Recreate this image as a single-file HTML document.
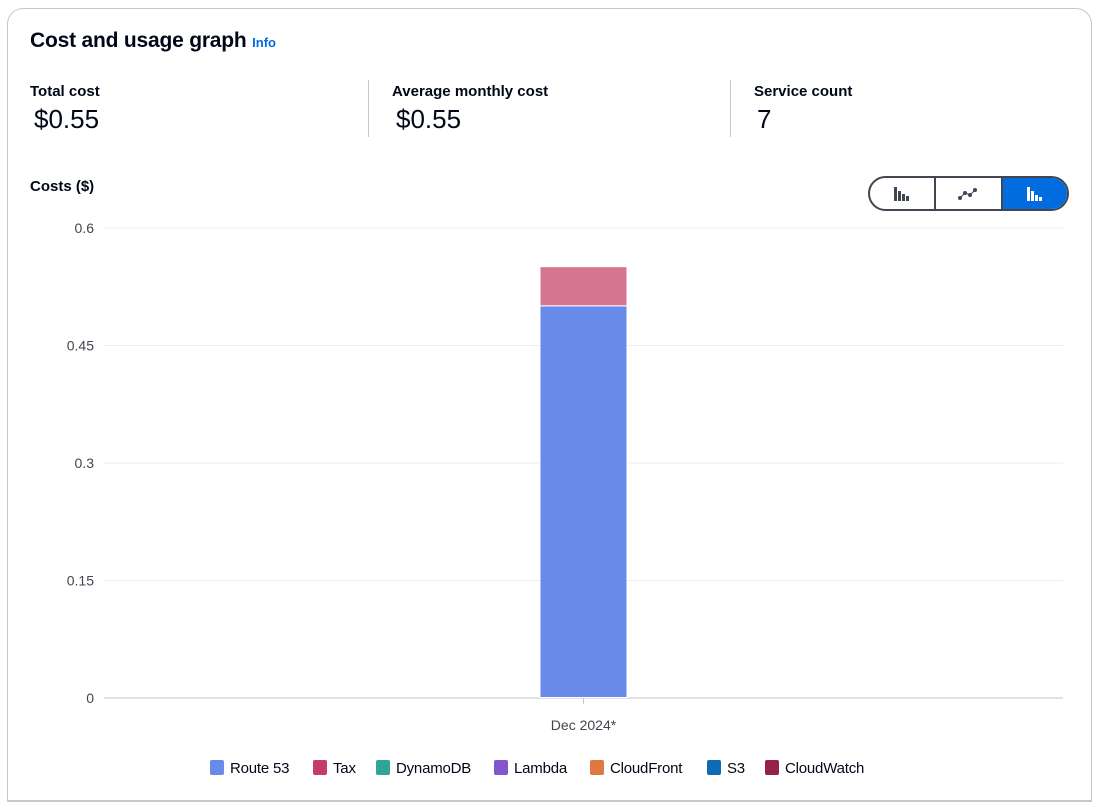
<!DOCTYPE html>
<html style="height:808px;overflow:hidden"><head><meta charset="utf-8"><style>
body{margin:0;width:1099px;height:808px;background:#fff;font-family:"Liberation Sans",sans-serif;color:#000716;overflow:hidden;position:relative}
.card{position:absolute;left:7px;top:8px;width:1085px;height:792px;border:1px solid #c6c6cd;border-bottom:none;border-radius:16px 16px 0 0;box-sizing:border-box}
.abs{position:absolute}
.lbl{font-weight:bold;font-size:15px}
.val{font-size:26px}
.sep{position:absolute;width:1px;background:#c6c6cd;top:80px;height:57px}
.tog{position:absolute;top:176px;left:868px;width:201px;height:35px;border:2px solid #424650;border-radius:18px;box-sizing:border-box;overflow:hidden;display:flex}
.tog div{flex:1;border-right:2px solid #424650;display:flex;align-items:center;justify-content:center}
.tog div:last-child{border-right:none;background:#006ce0}
</style></head><body>
<div class="card"></div>
<div class="abs" style="left:30px;top:29px;font-size:21px;font-weight:bold;letter-spacing:-0.2px">Cost and usage graph <span style="font-size:13px;color:#006ce0;letter-spacing:0">Info</span></div>
<div class="abs lbl" style="left:30px;top:83px">Total cost</div>
<div class="abs val" style="left:34px;top:104px">$0.55</div>
<div class="sep" style="left:368px"></div>
<div class="abs lbl" style="left:392px;top:83px">Average monthly cost</div>
<div class="abs val" style="left:396px;top:104px">$0.55</div>
<div class="sep" style="left:730px"></div>
<div class="abs lbl" style="left:754px;top:83px">Service count</div>
<div class="abs val" style="left:757px;top:104px">7</div>
<div class="abs lbl" style="left:30px;top:178px">Costs ($)</div>
<div class="tog">
<div><svg width="18" height="16"><rect x="1" y="1" width="3" height="14" fill="#424650"/><rect x="5" y="5" width="3" height="10" fill="#424650"/><rect x="9" y="8" width="3" height="7" fill="#424650"/><rect x="13" y="10" width="3" height="5" fill="#424650"/></svg></div>
<div><svg width="20" height="14"><polyline points="2,11 7,6 12,8 17,3" fill="none" stroke="#424650" stroke-width="1"/><circle cx="2" cy="11" r="2" fill="#424650"/><circle cx="7" cy="6" r="2" fill="#424650"/><circle cx="12" cy="8" r="2" fill="#424650"/><circle cx="17" cy="3" r="2" fill="#424650"/></svg></div>
<div><svg width="18" height="16"><rect x="1" y="1" width="3" height="14" fill="#fff"/><rect x="5" y="5" width="3" height="10" fill="#fff"/><rect x="9" y="9" width="3" height="6" fill="#fff"/><rect x="13" y="11" width="3" height="4" fill="#fff"/></svg></div>
</div>
<svg id="chart" class="abs" style="left:0;top:0" width="1099" height="808"></svg>
<div class="abs" style="left:7px;top:800px;width:1085px;height:2px;background:#c6c6cd"></div>
<script>
const categories=["Dec 2024*"];
const seriesNames=["Route 53","Tax","DynamoDB","Lambda","CloudFront","S3","CloudWatch"];
const seriesColors=["#688ae8","#c33d69","#2ea597","#8456ce","#e07941","#0f6ab4","#962249"];
const seriesValues=[[0.5],[0.05],[0],[0],[0],[0],[0]];
const yTicks=[0,0.15,0.3,0.45,0.6];
const yTickLabels=["0","0.15","0.3","0.45","0.6"];
const barColors=["#688ae8","#d5758f"];
const svg=document.getElementById('chart');const NS="http://www.w3.org/2000/svg";
const x0=104,x1=1063,yb=698,yt=228,ymax=0.6;
const y=v=>yb-(v/ymax)*(yb-yt);
const bw=(x1-x0)/categories.length;
function mk(t,a){const e=document.createElementNS(NS,t);for(const k in a)e.setAttribute(k,a[k]);svg.appendChild(e);return e;}
yTicks.forEach((t,i)=>{
const l=mk('line',{x1:x0,x2:x1,y1:y(t),y2:y(t),stroke:i==0?'#c6c6cd':'#e9ebed','stroke-width':1});


const tx=mk('text',{x:94,y:y(t)+5,'text-anchor':'end','font-size':14,fill:'#424650','font-family':'Liberation Sans'});tx.textContent=yTickLabels[i];


});
categories.forEach((c,ci)=>{
const cx=x0+bw*(ci+0.5);let acc=0;
const tk=mk('line',{x1:cx,x2:cx,y1:yb,y2:yb+6,stroke:'#c6c6cd'});


seriesValues.forEach((s,si)=>{const v=s[ci];if(!v)return;
const r=mk('rect',{x:cx-43.5,width:87,y:y(acc+v)-0.5,height:y(acc)-y(acc+v),fill:si<2?barColors[si]:seriesColors[si],stroke:'#fff','stroke-width':1});


acc+=v;});
const t=mk('text',{x:cx,y:730,'text-anchor':'middle','font-size':14,fill:'#424650','font-family':'Liberation Sans'});t.textContent=c;


});
const lx=[210,313,376,494,590,707,765];
seriesNames.forEach((n,i)=>{
const r=mk('rect',{x:lx[i],y:760,width:14,height:15,rx:2,fill:seriesColors[i]});


const t=mk('text',{x:lx[i]+20,y:773,'font-size':15,fill:'#000716','font-family':'Liberation Sans','letter-spacing':'-0.2'});t.textContent=n;


});
</script>
</body></html>
